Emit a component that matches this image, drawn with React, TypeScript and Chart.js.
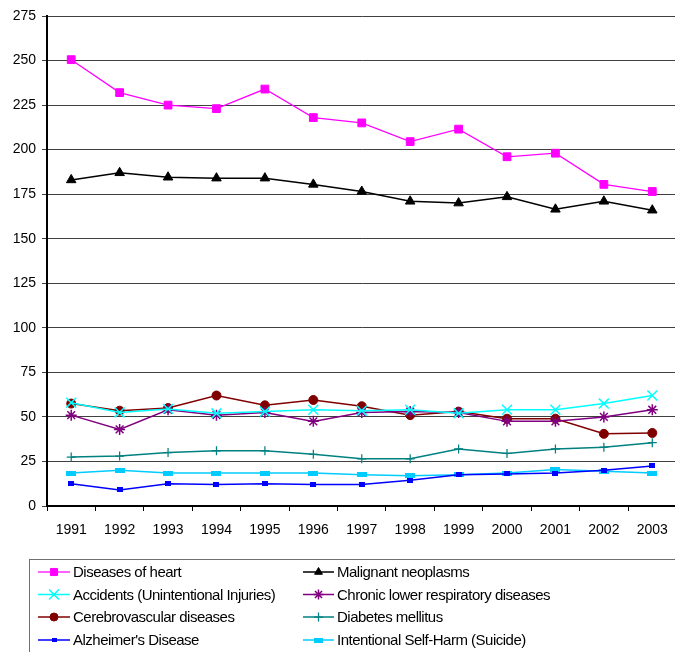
import React, { useEffect, useRef } from 'react';
import { Chart, registerables } from 'chart.js';
import { drawPoint } from 'chart.js/helpers';

Chart.register(...registerables);

const years = ['1991', '1992', '1993', '1994', '1995', '1996', '1997', '1998', '1999', '2000', '2001', '2002', '2003'];
const heart = [250.5, 232, 225, 223, 234, 218, 215, 204.5, 211.5, 196, 198, 180.5, 176.5];
const malignant = [183, 187, 184.5, 184, 184, 180.5, 176.5, 171, 170, 173.5, 166.5, 171, 166];
const accidents = [58, 52.5, 54.5, 52, 53, 54, 53.5, 54, 52, 54, 54, 57.5, 62];
const chronic = [51, 43, 54, 51, 52.5, 47.5, 52.5, 53, 52.5, 47.5, 47.5, 50, 54];
const cerebro = [57.5, 53.5, 55, 62, 56.5, 59.5, 56, 51, 53, 49, 49, 40.5, 41];
const diabetes = [27.5, 28, 30, 31, 31, 29, 26.5, 26.5, 32, 29.5, 32, 33, 35.5];
const alzheimer = [12.5, 9, 12.5, 12, 12.5, 12, 12, 14.5, 17.5, 18, 18.5, 20, 22.5];
const suicide = [18.5, 20, 18.5, 18.5, 18.5, 18.5, 17.5, 17, 17.5, 18.5, 20.5, 19.5, 18.5];

const yMin = 0;
const yMax = 275;
const yStep = 25;

const FONT = "'Liberation Sans', Arial, sans-serif";

function rectImg(w: number, h: number, color: string) {
  const c = document.createElement('canvas');
  c.width = w;
  c.height = h;
  const g = c.getContext('2d')!;
  g.fillStyle = color;
  g.fillRect(0, 0, w, h);
  return c;
}

const legendPlugin = {
  id: 'boxLegend',
  afterDraw(chart: any) {
    const ctx: CanvasRenderingContext2D = chart.ctx;
    ctx.save();
    ctx.strokeStyle = '#707070';
    ctx.lineWidth = 1;
    ctx.strokeRect(29.5, 559.5, 700, 200);
    const rows = [572, 594.5, 617, 640];
    const cols = [
      { x0: 38, x1: 70, tx: 73 },
      { x0: 303, x1: 334, tx: 337 },
    ];
    chart.data.datasets.forEach((ds: any, i: number) => {
      const r = Math.floor(i / 2);
      const c = cols[i % 2];
      const y = rows[r];
      ctx.strokeStyle = ds.borderColor;
      ctx.lineWidth = ds.borderWidth;
      ctx.beginPath();
      ctx.moveTo(c.x0, y);
      ctx.lineTo(c.x1, y);
      ctx.stroke();
      ctx.fillStyle = ds.pointBackgroundColor;
      ctx.strokeStyle = ds.pointBorderColor;
      ctx.lineWidth = ds.pointBorderWidth;
      drawPoint(
        ctx,
        {
          pointStyle: ds.legendPointStyle || ds.pointStyle,
          radius: ds.legendRadius,
          borderWidth: ds.pointBorderWidth,
          rotation: 0,
        } as any,
        (c.x0 + c.x1) / 2,
        y
      );
      ctx.fillStyle = '#000';
      ctx.font = `15px ${FONT}`;
      (ctx as any).letterSpacing = '-0.5px';
      ctx.textBaseline = 'middle';
      ctx.textAlign = 'left';
      ctx.fillText(ds.label, c.tx, y + 1);
      (ctx as any).letterSpacing = '0px';
    });
    ctx.restore();
  },
};

function mk(label: string, data: number[], color: string, style: any, radius: number, legendRadius: number, extra: any = {}) {
  return {
    label,
    data,
    borderColor: color,
    backgroundColor: color,
    borderWidth: 1.5,
    pointStyle: style,
    pointRadius: radius,
    pointHoverRadius: radius,
    pointBackgroundColor: color,
    pointBorderColor: color,
    pointBorderWidth: 1,
    legendRadius,
    tension: 0,
    ...extra,
  };
}

export default function App() {
  const ref = useRef<HTMLCanvasElement>(null);
  useEffect(() => {
    const suicideImg = rectImg(10, 5, '#00CCFF');
    const suicideLegend = rectImg(9, 5, '#00CCFF');
    const alzImg = rectImg(6, 5, '#0000FF');
    const alzLegend = rectImg(5, 4, '#0000FF');
    const chart = new Chart(ref.current!, {
      type: 'line',
      data: {
        labels: years,
        datasets: [
          mk('Diseases of heart', heart, '#FF00FF', 'rect', 5.5, 5, { borderWidth: 1.25 }),
          mk('Malignant neoplasms', malignant, '#000000', 'triangle', 5.5, 4.5),
          mk('Accidents (Unintentional Injuries)', accidents, '#00FFFF', 'crossRot', 7, 7, { pointBorderWidth: 1.5 }),
          mk('Chronic lower respiratory diseases', chronic, '#800080', 'star', 5.5, 5, { pointBorderWidth: 1.5 }),
          mk('Cerebrovascular diseases', cerebro, '#800000', 'circle', 4.5, 4),
          mk('Diabetes mellitus', diabetes, '#008080', 'cross', 4.5, 4.5, { pointBorderWidth: 1.25 }),
          mk("Alzheimer's Disease", alzheimer, '#0000FF', alzImg, 4, 3, { legendPointStyle: alzLegend }),
          mk('Intentional Self-Harm (Suicide)', suicide, '#00CCFF', suicideImg, 5, 5, { legendPointStyle: suicideLegend }),
        ],
      },
      options: {
        responsive: false,
        animation: false,
        events: [],
        layout: { padding: { left: 0, top: 16, right: 8, bottom: 0 } },
        plugins: {
          legend: { display: false },
          tooltip: { enabled: false },
          title: { display: false },
        },
        scales: {
          x: {
            type: 'category',
            offset: true,
            grid: {
              offset: true,
              drawOnChartArea: false,
              drawTicks: true,
              tickLength: 5,
              color: '#000',
              lineWidth: 1,
            },
            border: { display: true, color: '#000', width: 2 },
            ticks: {
              color: '#000',
              font: { family: FONT, size: 14 },
              padding: 11,
              maxRotation: 0,
              autoSkip: false,
            },
            afterFit: (s: any) => {
              s.height = 146;
            },
          },
          y: {
            min: yMin,
            max: yMax,
            grid: {
              color: '#404040',
              lineWidth: 1,
              drawTicks: true,
              tickLength: 5,
            },
            border: { display: true, color: '#000', width: 2 },
            ticks: {
              stepSize: yStep,
              color: '#000',
              font: { family: FONT, size: 14 },
              padding: 6,
            },
            afterFit: (s: any) => {
              s.width = 47;
            },
          },
        },
      },
      plugins: [legendPlugin],
    } as any);
    return () => chart.destroy();
  }, []);
  return (
    <div style={{ position: 'fixed', left: 0, top: 0, width: 675, height: 652, overflow: 'hidden', background: '#fff' }}>
      <canvas ref={ref} width={685} height={652} style={{ display: 'block', width: 685, height: 652 }} />
    </div>
  );
}
